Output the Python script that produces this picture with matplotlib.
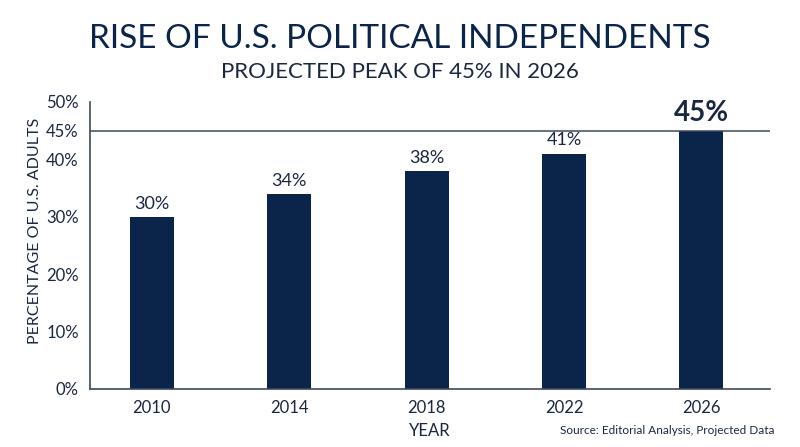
import matplotlib.pyplot as plt

years = ['2010', '2014', '2018', '2022', '2026']
pct = [30, 34, 38, 41, 45]
yticks = [0, 10, 20, 30, 40, 45, 50]

navy = '#0b2449'
text_col = '#1a2740'
line_col = '#3d4a5a'

plt.rcParams['font.family'] = ['Lato', 'DejaVu Sans']

fig = plt.figure(figsize=(8, 4.47), dpi=100)
ax = fig.add_axes([0.1125, 0.13, 0.85, 0.642])

x = range(len(years))
bars = ax.bar(x, pct, width=0.32, color=navy, zorder=2)

ax.axhline(45, color=line_col, lw=1.1, zorder=3)

ax.set_xlim(-0.45, 4.5)
ax.set_ylim(0, 50)
ax.set_xticks(list(x))
ax.set_xticklabels(years, fontsize=12, color=text_col)
ax.set_yticks(yticks)
ax.set_yticklabels([f'{v}%' for v in yticks], fontsize=12, color=text_col)
ax.tick_params(length=0, pad=8)

for s in ['top', 'right']:
    ax.spines[s].set_visible(False)
for s in ['left', 'bottom']:
    ax.spines[s].set_color(line_col)
    ax.spines[s].set_linewidth(1.2)

for i, (b, v) in enumerate(zip(bars, pct)):
    last = i == len(pct) - 1
    ax.text(b.get_x() + b.get_width() / 2, v + (0.9 if not last else 0.8), f'{v}%',
            ha='center', va='bottom', color=text_col,
            fontsize=20 if last else 13, fontweight='bold' if last else 'normal')

ax.set_ylabel('PERCENTAGE OF U.S. ADULTS', fontsize=11.5, color=text_col, labelpad=0)
ax.yaxis.set_label_coords(-0.07, 0.55)
ax.set_xlabel('YEAR', fontsize=12, color=text_col, labelpad=5)

fig.text(0.5, 0.912, 'RISE OF U.S. POLITICAL INDEPENDENTS', ha='center', va='center',
         fontsize=24, color=navy)
fig.text(0.5, 0.84, 'PROJECTED PEAK OF 45% IN 2026', ha='center', va='center',
         fontsize=16, color=text_col)
fig.text(0.968, 0.038, 'Source: Editorial Analysis, Projected Data', ha='right', va='center',
         fontsize=8.5, color=text_col)

fig.savefig('out.png', dpi=100, facecolor='white')
